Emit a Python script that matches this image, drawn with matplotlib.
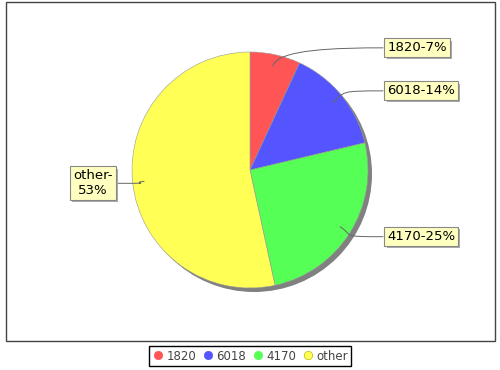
import matplotlib
matplotlib.use("Agg")
import matplotlib.pyplot as plt
import matplotlib.patheffects as pe
from matplotlib.path import Path
from matplotlib.patches import PathPatch, Rectangle, Circle
import numpy as np

# données du graphique
categories = ["1820", "6018", "4170", "other"]
values = [6.9, 14.4, 25.3, 53.4]
percent_labels = ["7%", "14%", "25%", "53%"]
colors = ["#FF5555", "#5555FF", "#55FF55", "#FFFF55"]

W, H = 500, 370
fig = plt.figure(figsize=(5, 3.7), dpi=100)
ax = fig.add_axes([0, 0, 1, 1])

# centre et rayon du camembert (en pixels, y vers le haut)
cx, cy, R = 250, H - 170, 118

# ombre du camembert
ax.add_patch(Circle((cx + 4, cy - 4), R, facecolor="#808080", edgecolor="none", zorder=1))

wedges, _ = ax.pie(values, colors=colors, startangle=90, counterclock=False,
                   center=(cx, cy), radius=R,
                   wedgeprops=dict(edgecolor="#999999", linewidth=0.4))
for w in wedges:
    w.set_zorder(2)

# étiquettes avec lignes de rappel
total = sum(values)
cum = 0.0
for cat, val, pct in zip(categories, values, percent_labels):
    mid = (cum + val / 2) / total * 2 * np.pi
    cum += val
    dx, dy = np.sin(mid), np.cos(mid)
    start = (cx + 0.9 * R * dx, cy + 0.9 * R * dy)
    right = dx >= 0
    lx = cx + 1.13 * R * (1 if right else -1)
    ly = cy + 1.06 * R * dy
    ctrl1 = (cx + 1.05 * R * dx, cy + 1.05 * R * dy)
    ctrl2 = (lx - 45 * (1 if right else -1), ly)
    path = Path([start, ctrl1, ctrl2, (lx, ly)],
                [Path.MOVETO, Path.CURVE4, Path.CURVE4, Path.CURVE4])
    ax.add_patch(PathPatch(path, facecolor="none", edgecolor="#666666", linewidth=0.7, zorder=3))
    text = f"{cat}-{pct}" if right else f"{cat}-\n{pct}"
    t = ax.text(lx + (4 if right else -4), ly, text, ha="left" if right else "right",
                va="center", fontsize=9.5, multialignment="center", zorder=5,
                bbox=dict(boxstyle="square,pad=0.22", facecolor="#FFFFC0",
                          edgecolor="#888888", linewidth=0.8))
    t.get_bbox_patch().set_path_effects([
        pe.SimplePatchShadow(offset=(1.5, -1.5), shadow_rgbFace="#aaaaaa", alpha=1),
        pe.Normal()])

# cadre de la zone de tracé
ax.add_patch(Rectangle((5.5, H - 341), 489.5, 339, facecolor="none",
                       edgecolor="#444444", linewidth=1, zorder=0))

ax.set_xlim(0, W)
ax.set_ylim(0, H)
ax.set_aspect("equal")
ax.axis("off")

# légende
handles = [plt.Line2D([], [], marker="o", linestyle="none", markersize=6,
                      markerfacecolor=c, markeredgecolor=c if i < 3 else "#bbbb00",
                      markeredgewidth=0.5)
           for i, c in enumerate(colors)]
leg = fig.legend(handles, categories, loc="center", bbox_to_anchor=(250 / W, 1 - 356 / H),
                 ncol=4, fontsize=8.5, frameon=True, fancybox=False, edgecolor="black",
                 handletextpad=0.2, columnspacing=0.5, handlelength=1.0, borderpad=0.3,
                 framealpha=1)
for txt in leg.get_texts():
    txt.set_color("#444444")

fig.savefig("out.png", dpi=100)
